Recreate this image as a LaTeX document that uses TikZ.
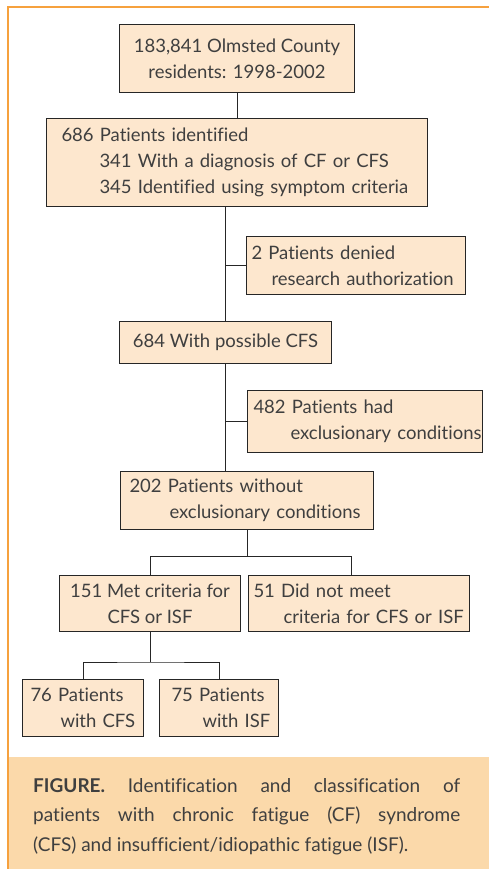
\documentclass[tikz,border=0pt]{standalone}
\usepackage{fontspec}
\setmainfont{Lato}[Ligatures={NoCommon,NoRare}]
\usepackage{xcolor}
\definecolor{boxfill}{HTML}{FDE7CE}
\definecolor{capfill}{HTML}{FBD9AA}
\definecolor{frameorange}{HTML}{F6A13E}
\definecolor{inkgray}{HTML}{3F3F3F}
\newcommand{\pad}[1]{\hspace*{#1pt}}
\hyphenpenalty=10000
\exhyphenpenalty=10000

\begin{document}
\begin{tikzpicture}[x=1pt, y=-1pt,
    box/.style={draw=black!85, line width=1pt, fill=boxfill, anchor=north west, inner sep=0pt, text=inkgray, font=\fontsize{18.5}{26}\selectfont},
    link/.style={draw=black!85, line width=1pt}]
        \useasboundingbox (0,0) rectangle (489,869);
        % frame and caption band
        \fill[capfill] (9,757) rectangle (489,869);
        \draw[frameorange, line width=2pt] (489,7) -- (8,7) -- (8,869);

        \node[box, minimum width=235pt, minimum height=68pt, align=center] (county) at (119,24) {183,841 Olmsted County\\residents: 1998-2002};
        \node[box, minimum height=88pt, text width=381pt, align=left] (ident) at (46,118) {\pad{15}686 Patients identified\\\pad{53}341 With a diagnosis of CF or CFS\\\pad{53}345 Identified using symptom criteria};
        \node[box, minimum height=58pt, text width=219pt, align=left] (denied) at (246,236) {\pad{5}2 Patients denied\\\pad{25}research authorization};
        \node[box, minimum width=212pt, minimum height=42pt, align=center] (possible) at (119,321) {684 With possible CFS};
        \node[box, minimum height=62pt, text width=235pt, align=left] (excl) at (247,390) {\pad{6}482 Patients had\\\pad{43}exclusionary conditions};
        \node[box, minimum height=58pt, text width=253pt, align=left] (without) at (120,471) {\pad{9}202 Patients without\\\pad{49}exclusionary conditions};
        \node[box, minimum width=181pt, minimum height=56pt, align=center] (met) at (59,575) {151 Met criteria for\\CFS or ISF};
        \node[box, minimum height=56pt, text width=221pt, align=left] (notmet) at (248,575) {\pad{5}51 Did not meet\\\pad{35}criteria for CFS or ISF};
        \node[box, minimum height=57pt, text width=121pt, align=left] (cfs) at (22,679) {\pad{8}76 Patients\\\pad{38}with CFS};
        \node[box, minimum height=57pt, text width=119pt, align=left] (isf) at (159,679) {\pad{12}75 Patients\\\pad{43}with ISF};

        % connectors
        \draw[link] (county.south) -- (county.south |- ident.north);
        \draw[link] (ident.south -| possible.north) -- (possible.north);
        \draw[link] (denied.west) -- (denied.west -| possible.north);
        \draw[link] (possible.south) -- (possible.south |- without.north);
        \draw[link] (excl.west) -- (excl.west -| possible.south);
        \coordinate (split) at (351,556);
        \draw[link] (without.south) -- (without.south |- split);
        \draw[link] (met.north) |- (split) -- (split |- notmet.north);
        \draw[link] (met.south) -- ++(0,30) coordinate (split2);
        \draw[link] (cfs.north) |- (split2) -| (isf.north);

        % caption
        \node[anchor=north west, inner sep=0pt, text width=427pt, align=justify, text=inkgray, font=\fontsize{19}{29.5}\selectfont] (caption) at (33,778) {\textbf{FIGURE.} Identification and classification of\linebreak patients with chronic fatigue (CF) syndrome\linebreak (CFS) and insufficient/idiopathic fatigue (ISF).};
\end{tikzpicture}
\end{document}
